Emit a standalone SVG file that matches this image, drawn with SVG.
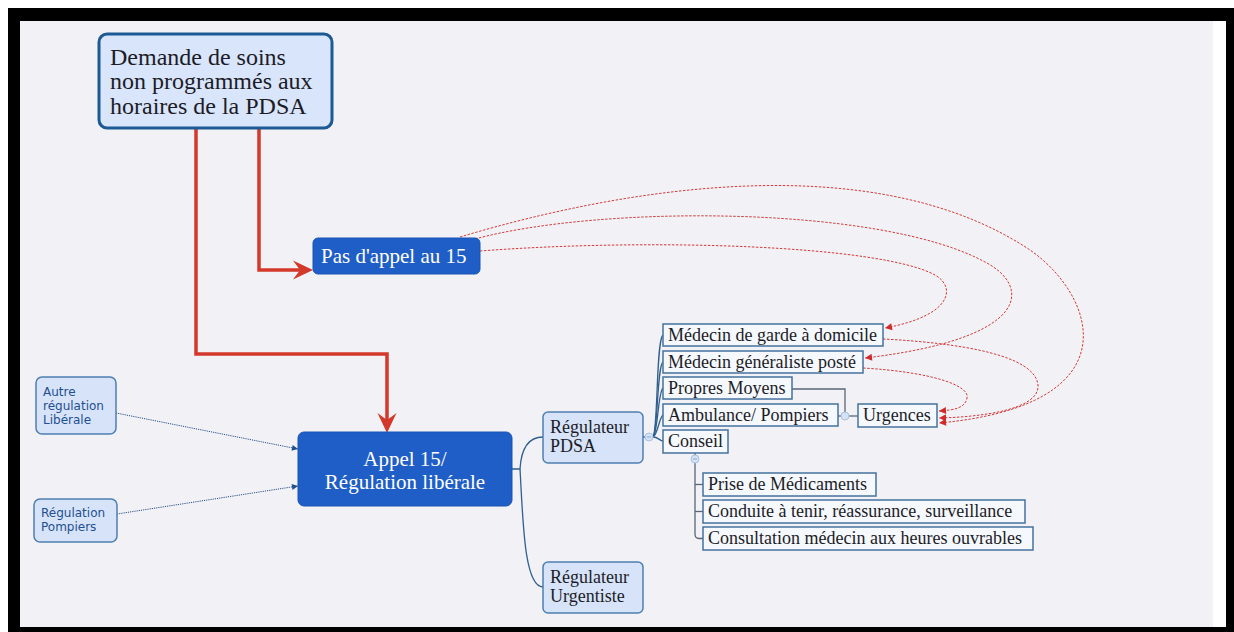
<svg xmlns="http://www.w3.org/2000/svg" width="1234" height="632" viewBox="0 0 1234 632">
<defs>
<style>
.serif{font-family:"Liberation Serif","Times New Roman",serif;fill:#1c1c26}
.sans{font-family:"DejaVu Sans","Liberation Sans",sans-serif;font-size:12px;fill:#1d4f91}
.white{fill:#ffffff}
.leaf{fill:#f5f8fd;stroke:#44729f;stroke-width:1.5}
.mid{fill:#d7e3f8;stroke:#4f7fb0;stroke-width:1.5}
.blue{fill:#1f5ec6;stroke:#1a55b5;stroke-width:1}
.red{fill:none;stroke:#d3392b;stroke-width:3.5}
.dash{fill:none;stroke:#d23a3a;stroke-width:1;stroke-dasharray:2.5 1.5}
.dot{fill:none;stroke:#2a4f88;stroke-width:1;stroke-dasharray:1.2 1}
.tree{fill:none;stroke:#2f5f8f;stroke-width:1.3}
.gray{fill:none;stroke:#5a6678;stroke-width:1.3}
.knob{fill:#d4e2f5;stroke:#a9c1e3;stroke-width:1}
</style>
<marker id="bigArrow" markerUnits="userSpaceOnUse" markerWidth="24" markerHeight="24" viewBox="-16 -12 24 24" refX="0" refY="0" orient="auto">
<path d="M7,0 L-13,-9.5 L-6,0 L-13,9.5 Z" fill="#d3392b"/>
</marker>
<marker id="redArrow" markerUnits="userSpaceOnUse" markerWidth="10" markerHeight="10" viewBox="-8 -5 10 10" refX="0" refY="0" orient="auto">
<path d="M0,0 L-7,-3.5 L-7,3.5 Z" fill="#d02a2a"/>
</marker>
<marker id="blueArrow" markerUnits="userSpaceOnUse" markerWidth="10" markerHeight="10" viewBox="-8 -5 10 10" refX="0" refY="0" orient="auto">
<path d="M0,0 L-6,-3 L-6,3 Z" fill="#1f4f8f"/>
</marker>
</defs>

<rect x="0" y="0" width="1234" height="632" fill="#ffffff"/>
<rect x="8" y="8" width="1226" height="624" fill="#000000"/>
<rect x="1213" y="21" width="13" height="606" fill="#ffffff"/>
<rect x="20" y="21" width="1193" height="606" fill="#f2f2f6"/>

<g id="connectors">
  <path class="red" d="M259,128 V270 H306" marker-end="url(#bigArrow)"/>
  <path class="red" d="M196,128 V354 H387 V426" marker-end="url(#bigArrow)"/>
  <path class="dot" d="M116,413 L298,449" marker-end="url(#blueArrow)"/>
  <path class="dot" d="M117,514 L298,486" marker-end="url(#blueArrow)"/>
  <path class="tree" d="M512,469 H520 C521,452 526,437 543,437"/>
  <path class="tree" d="M520,469 C523,520 524,587 543,587"/>
  <path class="tree" d="M643,437 H645"/>
  <path class="tree" d="M653,437 C658,432 656,340 663,335"/>
  <path class="tree" d="M653,437 C658,432 657,366 663,362"/>
  <path class="tree" d="M653,437 C658,432 658,392 663,388"/>
  <path class="tree" d="M653,437 C658,434 659,418 663,415"/>
  <path class="tree" d="M653,437 C658,437 660,441 663,441"/>
  <path class="gray" d="M792,389 H845 V412"/>
  <path class="gray" d="M838,416 H841"/>
  <path class="gray" d="M849,416 H858"/>
  <path class="gray" d="M695,453 V455"/>
  <path class="gray" d="M695,463 V534 Q695,538.5 699,538.5 H703"/>
  <path class="gray" d="M695,484.5 H703"/>
  <path class="gray" d="M695,511.5 H703"/>
  <path class="dash" d="M480,251 C650,238 880,245 935,275 C955,286 955,315 885,328" marker-end="url(#redArrow)"/>
  <path class="dash" d="M475,239 C600,205 880,205 985,262 C1030,285 1035,338 865,358" marker-end="url(#redArrow)"/>
  <path class="dash" d="M460,237 C640,183 880,150 1030,250 C1095,295 1135,405 939,423" marker-end="url(#redArrow)"/>
  <path class="dash" d="M883,339 C960,343 1035,355 1038,385 C1040,410 980,417 939,418" marker-end="url(#redArrow)"/>
  <path class="dash" d="M863,368 C930,372 970,385 967,398 C965,408 955,410 939,411" marker-end="url(#redArrow)"/>
</g>

<g id="knobs">
  <circle class="knob" cx="649" cy="437" r="4"/>
  <path d="M647,437 H651" stroke="#8fa9cf" stroke-width="1"/>
  <circle class="knob" cx="845" cy="416" r="4"/>
  <circle class="knob" cx="695" cy="459" r="4"/>
  <path d="M693,459 H697" stroke="#8fa9cf" stroke-width="1"/>
</g>

<g id="demande">
  <rect x="99" y="34" width="233" height="94" rx="8" fill="#d9e5fb" stroke="#1d5a94" stroke-width="3"/>
  <text class="serif" font-size="24" x="110" y="64.5">Demande de soins</text>
  <text class="serif" font-size="24" x="110" y="89">non programmés aux</text>
  <text class="serif" font-size="24" x="110" y="113.5">horaires de la PDSA</text>
</g>

<g id="pas-appel">
  <rect class="blue" x="313" y="238" width="167" height="36" rx="5"/>
  <text class="serif white" font-size="21" x="321" y="263">Pas d'appel au 15</text>
</g>

<g id="appel15">
  <rect class="blue" x="298" y="432" width="214" height="74" rx="6"/>
  <text class="serif white" font-size="21" x="405" y="465.5" text-anchor="middle">Appel 15/</text>
  <text class="serif white" font-size="21" x="405" y="489" text-anchor="middle">Régulation libérale</text>
</g>

<g id="autre-regulation">
  <rect class="mid" x="36" y="377" width="80" height="57" rx="6"/>
  <text class="sans" x="43" y="396">Autre</text>
  <text class="sans" x="43" y="410">régulation</text>
  <text class="sans" x="43" y="424">Libérale</text>
</g>

<g id="regulation-pompiers">
  <rect class="mid" x="34" y="499" width="83" height="43" rx="6"/>
  <text class="sans" x="41" y="517">Régulation</text>
  <text class="sans" x="41" y="531">Pompiers</text>
</g>

<g id="regulateur-pdsa">
  <rect class="mid" x="543" y="412" width="100" height="51" rx="5"/>
  <text class="serif" font-size="18" x="550" y="433">Régulateur</text>
  <text class="serif" font-size="18" x="550" y="452">PDSA</text>
</g>

<g id="regulateur-urgentiste">
  <rect class="mid" x="543" y="562" width="100" height="51" rx="5"/>
  <text class="serif" font-size="18" x="550" y="583">Régulateur</text>
  <text class="serif" font-size="18" x="550" y="602">Urgentiste</text>
</g>

<g id="medecin-garde">
  <rect class="leaf" x="663" y="324" width="220" height="22"/>
  <text class="serif" font-size="18" x="668" y="341">Médecin de garde à domicile</text>
</g>
<g id="medecin-generaliste">
  <rect class="leaf" x="663" y="351" width="200" height="22"/>
  <text class="serif" font-size="18" x="668" y="368">Médecin généraliste posté</text>
</g>
<g id="propres-moyens">
  <rect class="leaf" x="663" y="377" width="129" height="22"/>
  <text class="serif" font-size="18" x="668" y="394">Propres Moyens</text>
</g>
<g id="ambulance">
  <rect class="leaf" x="663" y="404" width="175" height="22"/>
  <text class="serif" font-size="18" x="668" y="421">Ambulance/ Pompiers</text>
</g>
<g id="conseil">
  <rect class="leaf" x="663" y="430" width="65" height="23"/>
  <text class="serif" font-size="18" x="668" y="447">Conseil</text>
</g>
<g id="urgences">
  <rect class="leaf" x="858" y="404" width="79" height="23"/>
  <text class="serif" font-size="18" x="863" y="421">Urgences</text>
</g>
<g id="prise-medicaments">
  <rect class="leaf" x="703" y="473" width="173" height="23"/>
  <text class="serif" font-size="18" x="708" y="490">Prise de Médicaments</text>
</g>
<g id="conduite">
  <rect class="leaf" x="703" y="500" width="322" height="23"/>
  <text class="serif" font-size="18" x="708" y="517">Conduite à tenir, réassurance, surveillance</text>
</g>
<g id="consultation">
  <rect class="leaf" x="703" y="527" width="330" height="23"/>
  <text class="serif" font-size="18" x="708" y="544">Consultation médecin aux heures ouvrables</text>
</g>
</svg>
